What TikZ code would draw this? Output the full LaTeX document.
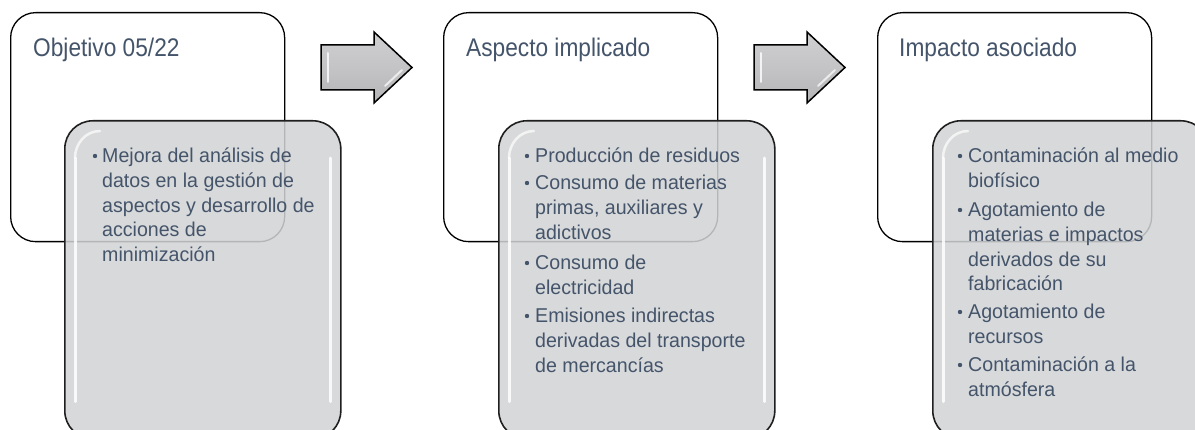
\documentclass[tikz,border=0pt]{standalone}
\usepackage{fontspec}
\setmainfont{Liberation Sans}
\newfontfamily\titlefont[FakeStretch=0.89]{Liberation Sans}
\newfontfamily\bodyfont[FakeStretch=0.98]{Liberation Sans}
\definecolor{txt}{RGB}{68,84,106}
\definecolor{grayfill}{RGB}{210,211,213}
\definecolor{arrowmid}{RGB}{196,196,198}
\newcommand\itemlines[1]{\vtop{#1}}
\begin{document}
\begin{tikzpicture}[x=1pt,y=-1pt,
  outerbox/.style={draw=black, line width=1.3pt, fill=white, rounded corners=25pt,
    minimum width=274pt, minimum height=229pt, anchor=north west, inner sep=0pt},
  innerbox/.style={draw=black!88, line width=1.6pt, fill=grayfill, fill opacity=0.86,
    rounded corners=28pt, minimum width=276pt, minimum height=318pt, anchor=north west, inner sep=0pt},
  hl/.style={draw=white, line width=3pt, opacity=0.85, line cap=round},
  titletext/.style={anchor=base west, inner sep=0pt, text=txt,
    font=\titlefont\fontsize{25.5}{30}\selectfont},
  itemtext/.style={anchor=base west, inner sep=0pt, text=txt, align=left,
    font=\bodyfont\fontsize{20}{24.6}\selectfont},
  bul/.style={circle, fill=txt, minimum size=4.4pt, inner sep=0pt},
  blockarrow/.style={draw=black, line width=1.5pt, line join=miter,
    top color=arrowmid!80!white, bottom color=arrowmid!92!black, middle color=arrowmid}
]
\useasboundingbox (0,0) rectangle (1195,430);
\clip (0,0) rectangle (1195,430);

% white boxes
\node[outerbox] (o1) at (10,12) {};
\node[outerbox] (o2) at (443,12) {};
\node[outerbox] (o3) at (877,12) {};

% gray boxes
\node[innerbox] (g1) at (64,120) {};
\node[innerbox] (g2) at (498,120) {};
\node[innerbox] (g3) at (932,120) {};

% highlights of gray boxes
\foreach \g in {g1,g2,g3}{
  \draw[hl] ([xshift=11pt,yshift=-38pt]\g.north west) -- ([xshift=11pt,yshift=38pt]\g.south west);
  \draw[hl] ([xshift=-11pt,yshift=-38pt]\g.north east) -- ([xshift=-11pt,yshift=38pt]\g.south east);
  \draw[white, line width=2.5pt, opacity=0.7, line cap=round]
    ([xshift=11pt,yshift=-38pt]\g.north west) to[out=90,in=180] ([xshift=36pt,yshift=-11pt]\g.north west);
}

% block arrows
\draw[blockarrow] (321,45) -- (374,45) -- (374,32) -- (412,67.5) -- (374,103) -- (374,90) -- (321,90) -- cycle;
\draw[white, line width=2pt, opacity=0.8, line cap=round] (328,53) -- (328,82);
\draw[white, line width=2pt, opacity=0.7, line cap=round] (385,86) -- (402,70);
\draw[blockarrow] (754,45) -- (807,45) -- (807,32) -- (845,67.5) -- (807,103) -- (807,90) -- (754,90) -- cycle;
\draw[white, line width=2pt, opacity=0.8, line cap=round] (761,53) -- (761,82);
\draw[white, line width=2pt, opacity=0.7, line cap=round] (818,86) -- (835,70);

% titles
\node[titletext] (t1) at (33,57) {Objetivo 05/22};
\node[titletext] (t2) at (466,57) {Aspecto implicado};
\node[titletext] (t3) at (899,57) {Impacto asociado};

% box 1 items
\node[bul] (b11) at (95,156) {};
\node[itemtext] (i11) at (102,163) {\itemlines{\hbox{Mejora del análisis de}\hbox{datos en la gestión de}\hbox{aspectos y desarrollo de}\hbox{acciones de}\hbox{minimización}}};

% box 2 items
\node[bul] (b21) at (527,156) {};
\node[itemtext] (i21) at (535,163) {\itemlines{\hbox{Producción de residuos}}};
\node[bul] (b22) at (527,183) {};
\node[itemtext] (i22) at (535,190) {\itemlines{\hbox{Consumo de materias}\hbox{primas, auxiliares y}\hbox{adictivos}}};
\node[bul] (b23) at (527,263) {};
\node[itemtext] (i23) at (535,270) {\itemlines{\hbox{Consumo de}\hbox{electricidad}}};
\node[bul] (b24) at (527,316) {};
\node[itemtext] (i24) at (535,323) {\itemlines{\hbox{Emisiones indirectas}\hbox{derivadas del transporte}\hbox{de mercancías}}};

% box 3 items
\node[bul] (b31) at (960,156) {};
\node[itemtext] (i31) at (968,163) {\itemlines{\hbox{Contaminación al medio}\hbox{biofísico}}};
\node[bul] (b32) at (960,210) {};
\node[itemtext] (i32) at (968,217) {\itemlines{\hbox{Agotamiento de}\hbox{materias e impactos}\hbox{derivados de su}\hbox{fabricación}}};
\node[bul] (b33) at (960,312) {};
\node[itemtext] (i33) at (968,319) {\itemlines{\hbox{Agotamiento de}\hbox{recursos}}};
\node[bul] (b34) at (960,365) {};
\node[itemtext] (i34) at (968,372) {\itemlines{\hbox{Contaminación a la}\hbox{atmósfera}}};
\end{tikzpicture}
\end{document}
